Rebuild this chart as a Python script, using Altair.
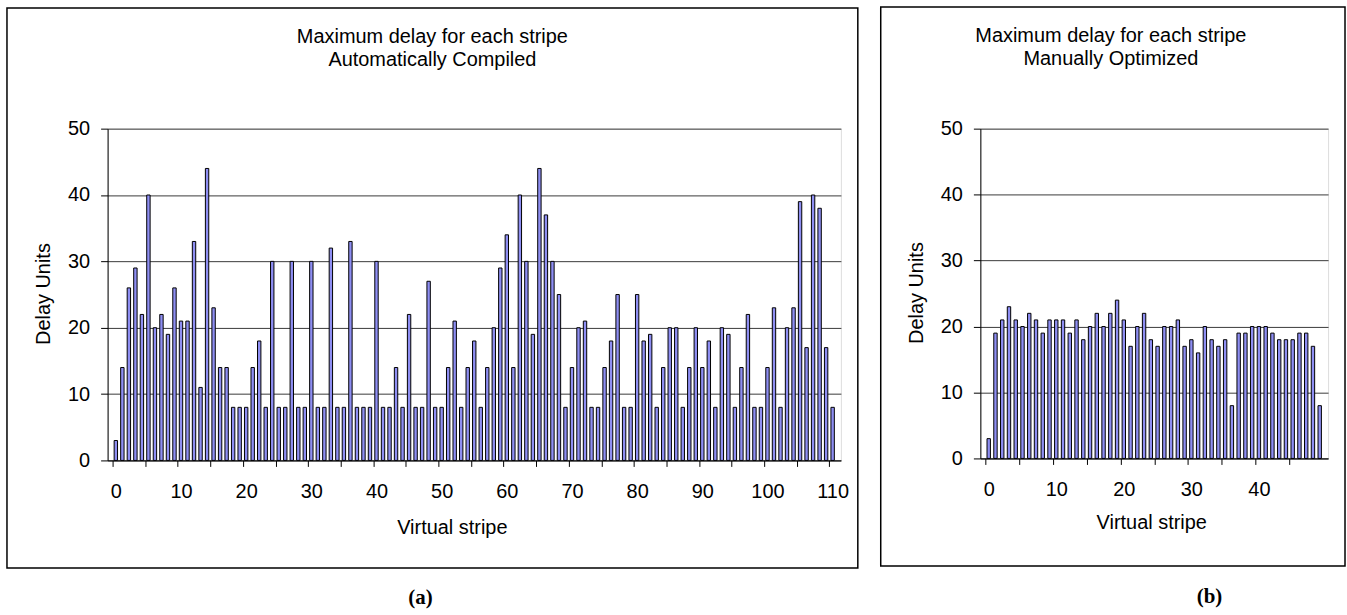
import altair as alt
import pandas as pd

# ---- data ----
auto_delay = [3, 14, 26, 29, 22, 40, 20, 22, 19, 26, 21, 21, 33, 11, 44, 23, 14, 14, 8, 8,
              8, 14, 18, 8, 30, 8, 8, 30, 8, 8, 30, 8, 8, 32, 8, 8, 33, 8, 8, 8,
              30, 8, 8, 14, 8, 22, 8, 8, 27, 8, 8, 14, 21, 8, 14, 18, 8, 14, 20, 29,
              34, 14, 40, 30, 19, 44, 37, 30, 25, 8, 14, 20, 21, 8, 8, 14, 18, 25, 8, 8,
              25, 18, 19, 8, 14, 20, 20, 8, 14, 20, 14, 18, 8, 20, 19, 8, 14, 22, 8, 8,
              14, 23, 8, 20, 23, 39, 17, 40, 38, 17, 8]
manual_delay = [3, 19, 21, 23, 21, 20, 22, 21, 19, 21, 21, 21, 19, 21, 18, 20, 22, 20, 22, 24,
                21, 17, 20, 22, 18, 17, 20, 20, 21, 17, 18, 16, 20, 18, 17, 18, 8, 19, 19, 20,
                20, 20, 19, 18, 18, 18, 19, 19, 17, 8]
y_ticks = [0, 10, 20, 30, 40, 50]
title_line1 = "Maximum delay for each stripe"
auto_title2 = "Automatically Compiled"
manual_title2 = "Manually Optimized"
y_title = "Delay Units"
x_title = "Virtual stripe"

FONT = "Liberation Sans"
BAR_FILL = "#8E8EF2"
FS = 20


def panel(values, subtitle, tag, w, h, frame, title_x, xt_pos, yt_pos, tag_pos):
    n = len(values)
    df = pd.DataFrame({"stripe": list(range(n)), "delay": values})
    one = pd.DataFrame({"k": [0]})
    xs = alt.Scale(domain=[-0.5, n - 0.5], nice=False, zero=False)
    ys = alt.Scale(domain=[0, 50], nice=False)
    label_vals = list(range(0, n, 10))
    tick_vals = [i - 0.5 for i in range(0, n, 5)]

    bars = alt.Chart(df).mark_bar(size=3.4, fill=BAR_FILL, stroke="black", strokeWidth=1).encode(
        x=alt.X("stripe:Q", scale=xs, axis=alt.Axis(
            orient="bottom", values=label_vals, ticks=False, tickSize=0, grid=False, title=None,
            domain=True, domainColor="black", domainWidth=1,
            labelFont=FONT, labelFontSize=FS, labelColor="black", labelPadding=21,
            labelFlush=False, labelOverlap=False)),
        y=alt.Y("delay:Q", scale=ys, axis=alt.Axis(
            values=y_ticks, grid=True, gridColor="#3a3a3a", gridWidth=1, title=None,
            domain=True, domainColor="black", ticks=True, tickSize=7, tickColor="black",
            labelFont=FONT, labelFontSize=FS, labelColor="black", labelPadding=11)),
    )
    ticks = alt.Chart(df).mark_point(opacity=0).encode(
        x=alt.X("stripe:Q", scale=xs, axis=alt.Axis(
            orient="bottom", values=tick_vals, labels=False, ticks=True, tickSize=6,
            tickColor="black", domain=False, grid=False, title=None)),
    )
    fx1, fy1, fx2, fy2 = frame
    box = alt.Chart(one).mark_rect(fill="transparent", stroke="black", strokeWidth=1.5).encode(
        x=alt.value(fx1), x2=alt.value(fx2), y=alt.value(fy1), y2=alt.value(fy2))
    t1 = alt.Chart(one).mark_text(font=FONT, fontSize=FS, align="center", baseline="alphabetic").encode(
        x=alt.value(title_x), y=alt.value(fy1 + 35), text=alt.value(title_line1))
    t2 = alt.Chart(one).mark_text(font=FONT, fontSize=FS, align="center", baseline="alphabetic").encode(
        x=alt.value(title_x), y=alt.value(fy1 + 58), text=alt.value(subtitle))
    xt = alt.Chart(one).mark_text(font=FONT, fontSize=FS, align="center", baseline="middle").encode(
        x=alt.value(xt_pos[0]), y=alt.value(xt_pos[1]), text=alt.value(x_title))
    yt = alt.Chart(one).mark_text(font=FONT, fontSize=FS, align="center", baseline="middle", angle=270).encode(
        x=alt.value(yt_pos[0]), y=alt.value(yt_pos[1]), text=alt.value(y_title))
    tg = alt.Chart(one).mark_text(font="Liberation Serif", fontSize=21, fontWeight="bold",
                                  align="center", baseline="middle").encode(
        x=alt.value(tag_pos[0]), y=alt.value(tag_pos[1]), text=alt.value(tag))
    return alt.layer(bars, ticks, box, t1, t2, xt, yt, tg).resolve_axis(x="independent").properties(
        width=w, height=h)


left = panel(auto_delay, auto_title2, "(a)", 736, 333,
             (-101, -121, 753, 441), 326, (346, 401), (-64, 166), (314, 471))
right = panel(manual_delay, manual_title2, "(b)", 349, 331,
              (-100, -122, 366, 439), 131, (172, 396), (-64, 165), (230, 470))

chart = alt.hconcat(left, right, spacing=19).properties(
    padding={"left": 5, "top": 4, "right": 0, "bottom": 0}
).configure_view(stroke="#8a8a8a", strokeWidth=1).configure(background="white")

chart.save("out.html", embed_options={"renderer": "svg", "actions": False})
